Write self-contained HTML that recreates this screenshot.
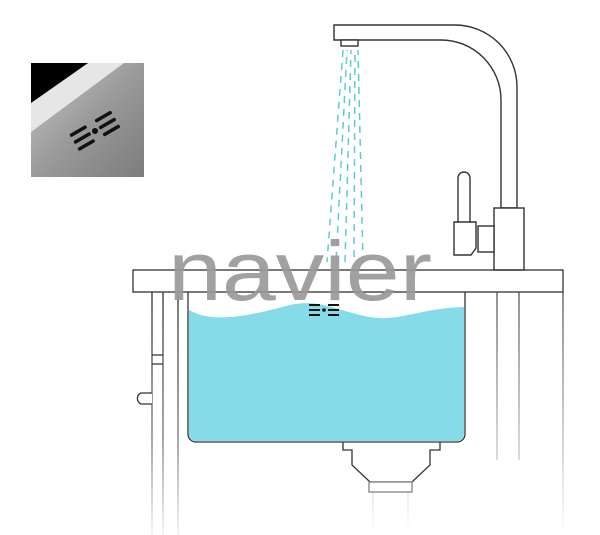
<!DOCTYPE html>
<html><head><meta charset="utf-8"><style>html,body{margin:0;padding:0;background:#fff;}svg{display:block}</style></head>
<body>
<svg width="600" height="535" viewBox="0 0 600 535" xmlns="http://www.w3.org/2000/svg">
<defs>
<linearGradient id="steel" x1="0" y1="0" x2="1" y2="1">
<stop offset="0" stop-color="#c8c8c8"/><stop offset="0.5" stop-color="#9a9a9a"/><stop offset="1" stop-color="#7c7c7c"/>
</linearGradient>
<linearGradient id="fade" gradientUnits="userSpaceOnUse" x1="0" y1="292" x2="0" y2="535">
<stop offset="0" stop-color="#333"/><stop offset="0.6" stop-color="#777"/><stop offset="1" stop-color="#eee"/>
</linearGradient>
<linearGradient id="fadeR" gradientUnits="userSpaceOnUse" x1="0" y1="292" x2="0" y2="535">
<stop offset="0" stop-color="#555"/><stop offset="0.5" stop-color="#aaa"/><stop offset="1" stop-color="#fff"/>
</linearGradient>
</defs>
<!-- inset -->
<rect x="31" y="63" width="113" height="114" fill="url(#steel)"/>
<polygon points="88,63 124,63 31,132 31,103" fill="#e6e6e6"/>
<polygon points="31,63 88,63 31,103" fill="#000"/>
<g transform="translate(95,131) rotate(-30)" fill="#111">
<rect x="-24" y="-10" width="19" height="3.5" rx="1.5"/><rect x="-24" y="-2" width="19" height="3.5" rx="1.5"/><rect x="-24" y="6" width="19" height="3.5" rx="1.5"/>
<rect x="5" y="-10" width="19" height="3.5" rx="1.5"/><rect x="5" y="-2" width="19" height="3.5" rx="1.5"/><rect x="5" y="6" width="19" height="3.5" rx="1.5"/>
<circle cx="0" cy="0" r="3"/>
</g>
<!-- cabinet lines -->
<g stroke="url(#fade)" stroke-width="1.3" fill="none">
<line x1="152" y1="292" x2="152" y2="535"/>
<line x1="163" y1="292" x2="163" y2="535"/>
<line x1="178" y1="292" x2="178" y2="535"/>
</g>
<g stroke="#333" stroke-width="1.3" fill="#fff">
<path d="M152 355 H163 M152 364 H163"/>
<path d="M152 393 H141 A6 6 0 0 0 141 404 H152"/>
</g>
<g stroke="url(#fadeR)" stroke-width="1.3" fill="none">
<line x1="497" y1="292" x2="497" y2="460"/>
<line x1="519" y1="292" x2="519" y2="460"/>
<line x1="563" y1="292" x2="563" y2="535"/>
<line x1="373" y1="492" x2="373" y2="535"/>
<line x1="408" y1="492" x2="408" y2="535"/>
</g>
<!-- drain -->
<path d="M343 442 V450 H352 V465 L370 482 H412 L430 465 V450 H440 V442" fill="#fff" stroke="#333" stroke-width="1.3"/>
<rect x="369" y="482" width="43" height="10" fill="#fff" stroke="#777" stroke-width="1.2"/>
<!-- sink -->
<path d="M188 292 V434 A8 8 0 0 0 196 442 H457 A8 8 0 0 0 465 434 V292" fill="#fff" stroke="#333" stroke-width="1.3"/>
<path d="M189 310 C215 325 255 314 290 305 C320 298 340 312 370 317 C400 322 420 308 464 307 V434 A7 7 0 0 1 457 441 H196 A7 7 0 0 1 189 434 Z" fill="#86dbe9"/>
<!-- faucet -->
<g stroke="#333" stroke-width="1.4" fill="#fff">
<path d="M334 25 H455 A62 62 0 0 1 517 87 V208 H501 V100 A60 60 0 0 0 441 40 H334 Z"/>
<rect x="341" y="40" width="17" height="6"/>
<rect x="494" y="208" width="30" height="62"/>
<rect x="478" y="226" width="16" height="26"/>
<path d="M458 222 V178 A6 6 0 0 1 470 178 V222"/>
<path d="M454 222 H476 V248 L471 255 H454 Z"/>
</g>
<!-- water stream -->
<g stroke="#5ccbd8" stroke-width="1.5" stroke-dasharray="7 6">
<line x1="343" y1="50" x2="327" y2="262"/>
<line x1="347" y1="50" x2="336" y2="262" stroke-dashoffset="6"/>
<line x1="351" y1="50" x2="345" y2="262" stroke-dashoffset="3"/>
<line x1="355" y1="50" x2="354" y2="262" stroke-dashoffset="8"/>
<line x1="358" y1="50" x2="363" y2="262" stroke-dashoffset="2"/>
</g>
<!-- counter -->
<rect x="133" y="270" width="430" height="22" fill="none" stroke="#333" stroke-width="1.3"/>
<!-- logo -->
<text x="168" y="300" font-family="Liberation Sans, sans-serif" font-size="84" fill="#999" fill-opacity="0.92" textLength="264" lengthAdjust="spacingAndGlyphs">navier</text>
<!-- overflow -->
<g fill="#111" transform="translate(324,310)">
<rect x="-15" y="-6" width="11" height="2"/><rect x="-15" y="-1" width="11" height="2"/><rect x="-15" y="4" width="11" height="2"/>
<rect x="4" y="-6" width="11" height="2"/><rect x="4" y="-1" width="11" height="2"/><rect x="4" y="4" width="11" height="2"/>
<circle cx="0" cy="0" r="1.8"/>
</g>
</svg>
</body></html>
